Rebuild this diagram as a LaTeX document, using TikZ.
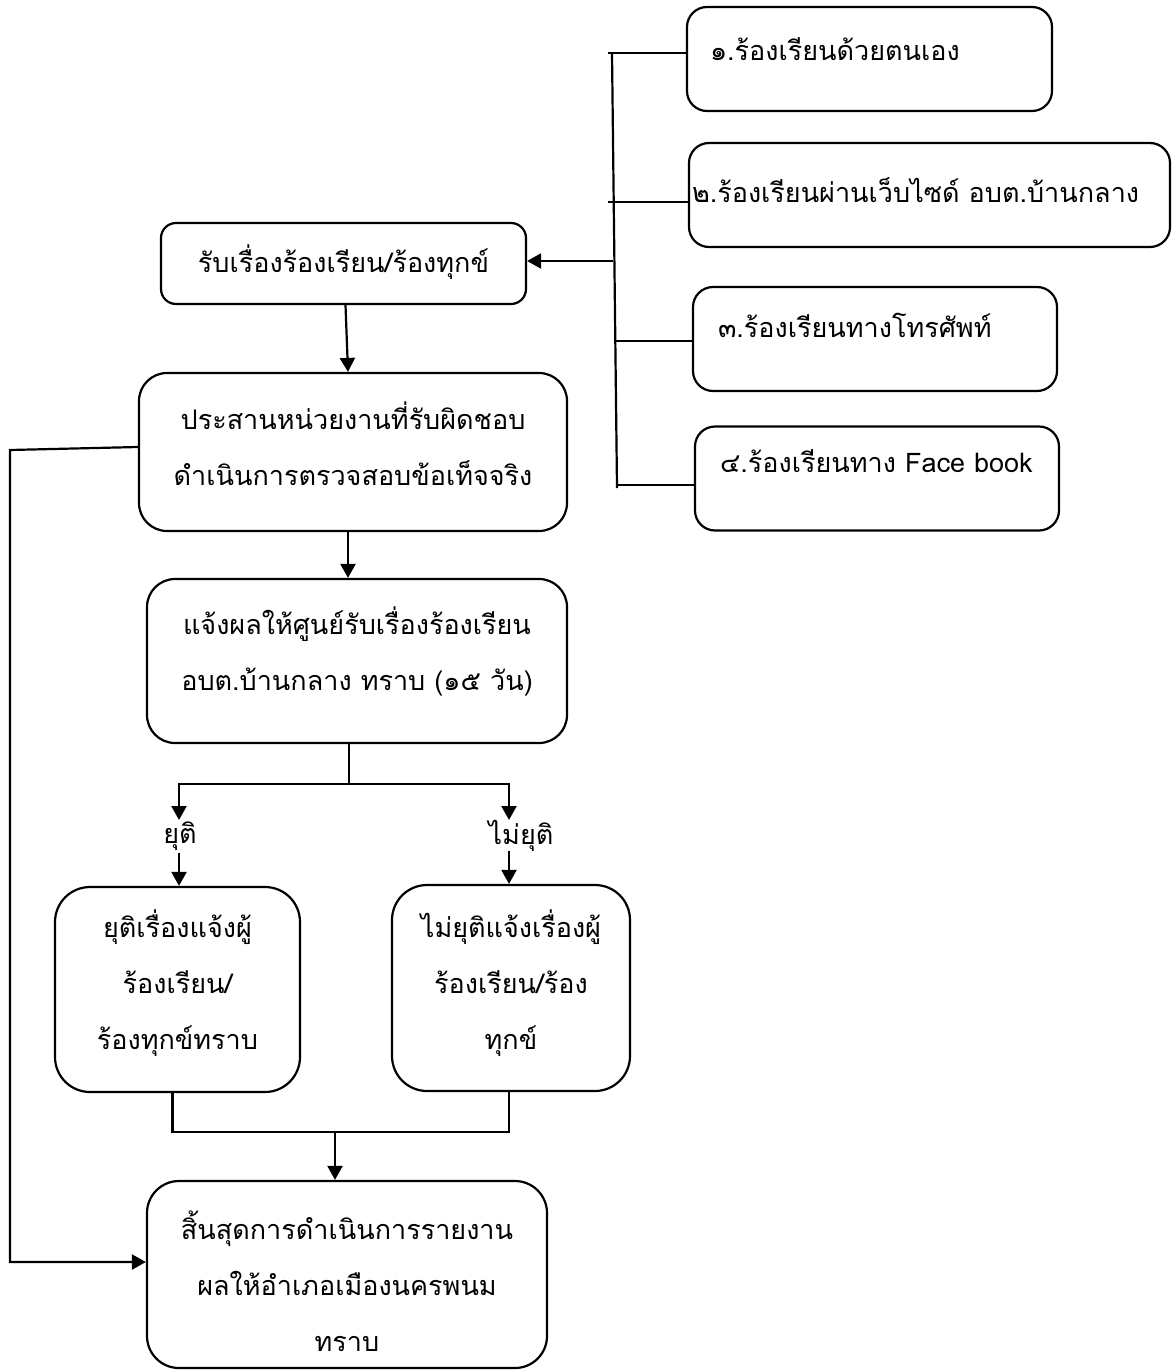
\documentclass[tikz,border=0pt]{standalone}
\usepackage{fontspec}
\newfontfamily\thai[Script=Thai]{Loma}
\usetikzlibrary{arrows.meta}
\newcommand\thaifs{\thai\fontsize{27pt}{56pt}\selectfont}
\newcommand\tup[1]{\rule{0pt}{#1}}
\newcommand\tdn[1]{\rule[-#1]{0pt}{0pt}}
\begin{document}
\begin{tikzpicture}[x=1pt,y=-1pt,
  box/.style={draw, line width=2.2pt, inner sep=0pt, font=\thaifs, align=center},
  lbox/.style={box, align=left, text height=30pt},
  lbl/.style={font=\thaifs, inner sep=0pt},
  ln/.style={line width=2.2pt},
  arr/.style={line width=2.2pt, -{Triangle[length=14pt,width=15pt]}}
]
\useasboundingbox (0,0) rectangle (1171,1370);

% right-hand channel boxes
\node[lbox, rounded corners=20pt, minimum height=104pt, text width=319pt, inner xsep=23pt, text depth=26pt] (b1) at (869.5,59) {๑.ร้องเรียนด้วยตนเอง};
\node[lbox, rounded corners=20pt, minimum height=104pt, text width=475pt, inner xsep=3pt, text depth=16pt] (b2) at (929.5,195) {๒.ร้องเรียนผ่านเว็บไซด์ อบต.บ้านกลาง};
\node[lbox, rounded corners=20pt, minimum height=104pt, text width=314pt, inner xsep=25pt, text depth=34pt] (b3) at (875,339) {๓.ร้องเรียนทางโทรศัพท์};
\node[lbox, rounded corners=20pt, minimum height=104pt, text width=314pt, inner xsep=25pt, text depth=43pt] (b4) at (877,478.5) {๔.ร้องเรียนทาง Face book};

% main flow boxes
\node[box, rounded corners=15pt, minimum width=365pt, minimum height=81pt, text height=30pt, text depth=13pt] (r) at (343.5,263.5) {รับเรื่องร้องเรียน/ร้องทุกข์};
\node[box, rounded corners=28pt, minimum width=428pt, minimum height=158pt] (p) at (353,452) {\tup{40pt}ประสานหน่วยงานที่รับผิดชอบ\\ดำเนินการตรวจสอบข้อเท็จจริง\tdn{30pt}};
\node[box, rounded corners=28pt, minimum width=420pt, minimum height=164pt] (n) at (357,661) {\tup{32pt}แจ้งผลให้ศูนย์รับเรื่องร้องเรียน\\อบต.บ้านกลาง ทราบ (๑๕ วัน)\tdn{30pt}};
\node[box, rounded corners=35pt, minimum width=245pt, minimum height=205pt] (y) at (177.5,989.5) {\tup{37pt}ยุติเรื่องแจ้งผู้\\ร้องเรียน/\\ร้องทุกข์ทราบ\tdn{30pt}};
\node[box, rounded corners=35pt, minimum width=238pt, minimum height=206pt] (ny) at (511,988) {\tup{40pt}ไม่ยุติแจ้งเรื่องผู้\\ร้องเรียน/ร้อง\\ทุกข์\tdn{30pt}};
\node[box, rounded corners=32pt, minimum width=400pt, minimum height=187pt] (e) at (347,1274.5) {\tup{58pt}สิ้นสุดการดำเนินการรายงาน\\ผลให้อำเภอเมืองนครพนม\\ทราบ\tdn{17pt}};

% branch labels
\node[lbl] (yl) at (180,836) {ยุติ};
\node[lbl] (nyl) at (521,836) {ไม่ยุติ};

% collector bar on the right
\coordinate (bt) at (612,53);
\coordinate (bb) at (617,488);
\draw[ln] (bt) -- (bb);
\coordinate (t1) at (608,53);
\coordinate (t2) at (608,202);
\coordinate (t3) at (615,341);
\coordinate (t4) at (617,485);
\draw[ln] (t1) -- (t1 -| b1.west);
\draw[ln] (t2) -- (t2 -| b2.west);
\draw[ln] (t3) -- (t3 -| b3.west);
\draw[ln] (t4) -- (t4 -| b4.west);
\coordinate (ra) at (613,261);
\draw[arr] (ra) -- (ra -| r.east);

% main flow
\draw[arr] ([xshift=2pt]r.south) -- ([xshift=-5pt]p.north);
\draw[arr] ([xshift=-5pt]p.south) -- ([xshift=-9pt]n.north);

% left return line
\coordinate (lt) at (10,450);
\coordinate (lb) at (10,1262);
\draw[arr] ([yshift=5pt]p.west) -- (lt) -- (lb) -- (lb -| e.west);

% split
\coordinate (jn) at (349,784);
\coordinate (ya) at (179,820);
\coordinate (nya) at (509,820);
\draw[ln] ([xshift=-8pt]n.south) -- (jn);
\draw[arr] (jn) -| (ya);
\draw[arr] (jn) -| (nya);
\draw[arr] ([yshift=33pt,xshift=1.5pt]y.north) -- ([xshift=1.5pt]y.north);
\draw[arr] ([yshift=33pt,xshift=-2pt]ny.north) -- ([xshift=-2pt]ny.north);

% merge
\coordinate (mg) at (335,1132);
\draw[ln] ([xshift=-5pt]y.south) |- (mg) -| ([xshift=-2pt]ny.south);
\draw[arr] (mg) -- (mg |- e.north);
\end{tikzpicture}
\end{document}
